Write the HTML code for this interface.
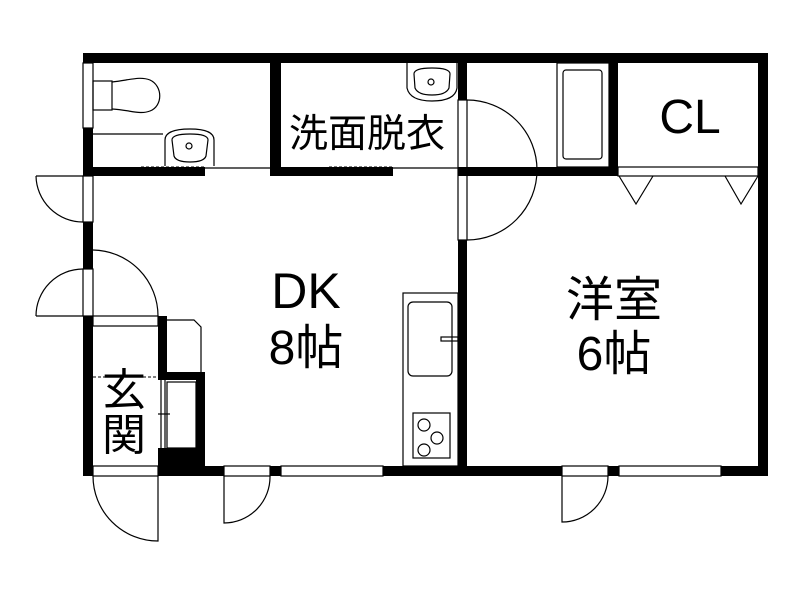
<!DOCTYPE html>
<html><head><meta charset="utf-8"><style>
html,body{margin:0;padding:0;background:#fff;}
svg{display:block;}
text{font-family:"Liberation Sans","Noto Sans CJK JP",sans-serif;fill:#000;}
</style></head><body>
<svg width="800" height="600" viewBox="0 0 800 600" xmlns="http://www.w3.org/2000/svg">
<rect width="800" height="600" fill="#fff"/>
<g fill="#000" stroke="none">
<rect x="83" y="53" width="685" height="10"/>
<rect x="758" y="53" width="10" height="423"/>
<rect x="83" y="128" width="10" height="48"/>
<rect x="83" y="222" width="10" height="47"/>
<rect x="83" y="316" width="10" height="160"/>
<rect x="83" y="466" width="10" height="10"/>
<rect x="158" y="448" width="47" height="28"/>
<rect x="205" y="466" width="19" height="10"/>
<rect x="270" y="466" width="11" height="10"/>
<rect x="383" y="466" width="179" height="10"/>
<rect x="608" y="466" width="11" height="10"/>
<rect x="721" y="466" width="47" height="10"/>
<rect x="83" y="167" width="122" height="9"/>
<rect x="270" y="53" width="11" height="123"/>
<rect x="281" y="167" width="112" height="9"/>
<rect x="458" y="53" width="9" height="47"/>
<rect x="458" y="167" width="160" height="9"/>
<rect x="609" y="53" width="9" height="123"/>
<rect x="458" y="240" width="9" height="236"/>
<rect x="158" y="316" width="9" height="56"/>
<rect x="158" y="372" width="47" height="8"/>
<rect x="196" y="372" width="9" height="104"/>
</g>
<g fill="none" stroke="#000" stroke-width="1.2">
<rect x="83" y="63" width="10" height="65"/>
<rect x="93" y="316" width="65" height="10"/>
<rect x="93" y="466" width="65" height="10"/>
<rect x="224" y="466" width="46" height="10"/>
<rect x="281" y="466" width="102" height="10"/>
<rect x="562" y="466" width="46" height="10"/>
<rect x="619" y="466" width="102" height="10"/>
<rect x="618" y="167" width="140" height="9"/>
<rect x="83" y="176" width="10" height="46"/>
<rect x="83" y="269" width="10" height="47"/>
<rect x="458" y="100" width="9" height="140"/>
<line x1="205" y1="168" x2="270" y2="168"/>
<line x1="393" y1="168" x2="458" y2="168"/>
<line x1="93" y1="134" x2="163" y2="134"/>
<path d="M36,176 L83,176 M36,176 A47,47 0 0 0 83,222"/>
<path d="M36,316 L83,316 M36,316 A47,47 0 0 1 83,269"/>
<path d="M93,250 A66,66 0 0 1 158,316"/>
<path d="M93,476 A65,65 0 0 0 158,541 L158,476"/>
<path d="M224,476 L224,523 A46,46 0 0 0 270,476"/>
<path d="M562,476 L562,522 A46,46 0 0 0 608,476"/>
<path d="M467,100 A70,70 0 0 1 467,240"/>
<path d="M619,176 L636,204 L653,176"/>
<path d="M725,176 L741,204 L758,176"/>
<rect x="93" y="81" width="19" height="29"/>
<path d="M112,82 C130,80 140,76 150,80 C163,86 163,106 150,111 C140,115 130,110 112,109"/>
<path d="M165,166 L165,140 Q165,129 190,129 Q214,129 214,140 L214,166"/>
<path d="M172,140 Q172,134 190,134 Q208,134 208,140 L206,156 Q204,162 190,162 Q176,162 174,156 Z"/>
<circle cx="189" cy="146" r="3"/>
<path d="M407,63 L407,88 Q410,101 432,101 Q455,101 457,88 L457,63"/>
<path d="M414,74 Q414,68 432,68 Q450,68 450,74 L449,88 Q446,95 432,95 Q418,95 415,88 Z"/>
<circle cx="431" cy="82" r="3"/>
<rect x="557" y="63" width="52" height="104"/>
<rect x="563" y="70" width="39" height="89" rx="3"/>
<rect x="403" y="293" width="55" height="173"/>
<rect x="408" y="302" width="44" height="74" rx="5"/>
<rect x="441" y="337" width="17" height="4"/>
<rect x="413" y="413" width="37" height="45"/>
<circle cx="424" cy="425" r="6"/>
<circle cx="437" cy="438" r="6"/>
<circle cx="424" cy="450" r="6"/>
<path d="M167,320 L194,320 L201,327 L201,372"/>
<rect x="167" y="382" width="29" height="66"/>
<line x1="161" y1="380" x2="161" y2="448"/>
<line x1="165" y1="380" x2="165" y2="448"/>
<line x1="158" y1="414" x2="170" y2="414"/>
</g>
<g fill="none" stroke="#000" stroke-width="1" stroke-dasharray="3,2">
<line x1="141" y1="167" x2="205" y2="167"/>
<line x1="329" y1="167" x2="393" y2="167"/>
<line x1="93" y1="377" x2="158" y2="377"/>
</g>
<text x="289" y="147" font-size="39">洗面脱衣</text>
<text x="690" y="133" font-size="48" text-anchor="middle">CL</text>
<text x="306" y="308" font-size="50" text-anchor="middle">DK</text>
<text x="306" y="364" font-size="48" text-anchor="middle">8帖</text>
<text x="614" y="316" font-size="48" text-anchor="middle">洋室</text>
<text x="614" y="370" font-size="48" text-anchor="middle">6帖</text>
<text x="124" y="405" font-size="44" text-anchor="middle">玄</text>
<text x="124" y="450" font-size="44" text-anchor="middle">関</text>
</svg>
</body></html>
